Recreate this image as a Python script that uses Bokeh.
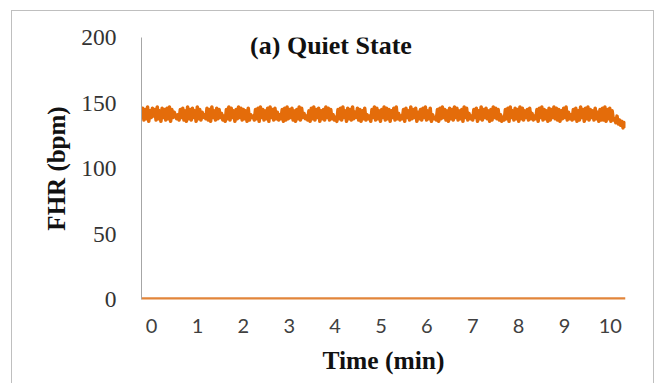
from bokeh.plotting import figure
from bokeh.embed import file_html
from bokeh.resources import INLINE
from bokeh.models import ColumnDataSource, Range1d, FixedTicker, InlineStyleSheet, Label

# ---- data ----
fhr = [
    139,146,137,145,138,147,136,144,139,146,140,145,137,147,138,144,136,146,139,145,
    137,146,138,147,136,145,139,143,140,138,141,137,145,139,146,137,144,136,147,138,
    145,137,146,139,144,136,147,138,145,137,143,139,141,138,146,137,145,136,147,139,
    144,137,146,138,145,139,142,137,140,136,145,138,147,137,146,139,144,136,145,138,
    147,139,146,137,145,138,144,136,146,137,141,139,140,137,145,138,146,136,147,139,
    145,137,144,138,146,136,147,139,145,137,146,138,143,137,141,138,145,136,146,137,
    147,138,145,139,146,137,144,136,145,138,147,137,146,139,142,138,140,137,144,136,
    146,138,147,137,145,139,146,136,144,138,145,137,147,139,146,137,145,138,141,137,
    139,136,145,138,146,137,147,139,144,136,146,138,145,137,147,138,143,139,146,137,
    145,136,144,138,146,137,141,138,140,136,145,139,147,137,146,138,144,136,145,139,
    147,137,146,138,145,136,144,139,146,137,147,138,142,137,140,138,145,136,146,139,
    144,137,147,138,145,139,146,136,143,138,145,137,146,139,147,137,144,138,146,136,
    141,138,139,137,145,136,146,138,147,139,145,137,144,136,146,138,145,137,147,139,
    146,137,144,138,145,136,147,139,146,137,142,138,140,137,145,139,146,136,144,138,
    147,137,145,139,146,138,144,136,145,137,147,139,146,138,145,137,141,136,139,137,
    145,138,146,136,147,139,144,137,146,138,145,136,147,138,146,137,144,139,145,137,
    146,138,142,137,140,138,145,136,146,139,147,137,145,138,144,136,146,137,145,139,
    147,138,146,137,145,136,144,138,146,139,147,137,143,138,141,137,145,138,146,136,
    144,137,147,139,145,136,146,138,147,137,145,139,144,137,146,138,143,136,145,137,
    146,137,147,136,145,138,146,136,144,137,138,135,140,134,137,133,136,131,135,131,
]
t_start, t_end = -0.22, 10.33          # recording span (min)
baseline = [0, 0]                     # second series, flat at zero
x_ticks = list(range(0, 11))
y_ticks = [0, 50, 100, 150, 200]
title_text = "(a) Quiet State"
title_pos = (3.91, 194)               # data coordinates of the in-plot title

n = len(fhr)
step = (t_end - t_start) / (n - 1)
time = [t_start + i * step for i in range(n)]

src = ColumnDataSource(dict(t=time, fhr=fhr))
base_src = ColumnDataSource(dict(t=[t_start, t_end], v=baseline))

SERIF = "Liberation Serif"

p = figure(width=641, height=373, frame_width=484, frame_height=262,
           output_backend="svg", toolbar_location=None,
           x_range=Range1d(t_start, t_end), y_range=Range1d(0, 200),
           min_border_left=129, min_border_right=28, min_border_top=26, min_border_bottom=85)
p.margin = (10, 0, 0, 11)
p.stylesheets = [InlineStyleSheet(css=":host { border: 1px solid #BFBFBF; border-bottom: none; }")]

p.outline_line_color = None
p.grid.visible = False
p.background_fill_color = "white"
p.border_fill_color = "white"

p.line("t", "v", source=base_src, line_color="#E2853A", line_width=4.5)
p.line("t", "fhr", source=src, line_color="#E46C0A", line_width=3.5, line_join="round")

# y axis
ya = p.yaxis[0]
ya.ticker = FixedTicker(ticks=y_ticks)
ya.axis_line_color = "#A6A6A6"
ya.major_tick_line_color = None
ya.minor_tick_line_color = None
ya.major_label_text_font = SERIF
ya.major_label_text_font_size = "23.5px"
ya.major_label_text_color = "#333333"
ya.major_label_standoff = 19
ya.axis_label = "FHR (bpm)"
ya.axis_label_text_font = SERIF
ya.axis_label_text_font_style = "bold"
ya.axis_label_text_font_size = "25px"
ya.axis_label_text_color = "#111111"
ya.axis_label_standoff = 8

# x axis
xa = p.xaxis[0]
xa.ticker = FixedTicker(ticks=x_ticks)
xa.axis_line_color = None
xa.major_tick_line_color = None
xa.minor_tick_line_color = None
xa.major_label_text_font = "Lato"
xa.major_label_text_font_size = "20px"
xa.major_label_text_color = "#404040"
xa.major_label_standoff = 13
xa.axis_label = "Time (min)"
xa.axis_label_text_font = SERIF
xa.axis_label_text_font_style = "bold"
xa.axis_label_text_font_size = "25.5px"
xa.axis_label_text_color = "#111111"
xa.axis_label_standoff = 10

# title inside plot
p.add_layout(Label(x=title_pos[0], y=title_pos[1], text=title_text,
                   text_font=SERIF, text_font_style="bold", text_font_size="26px",
                   text_color="#111111", text_align="center", text_baseline="middle"))

open("out.html", "w").write(file_html(p, INLINE))
